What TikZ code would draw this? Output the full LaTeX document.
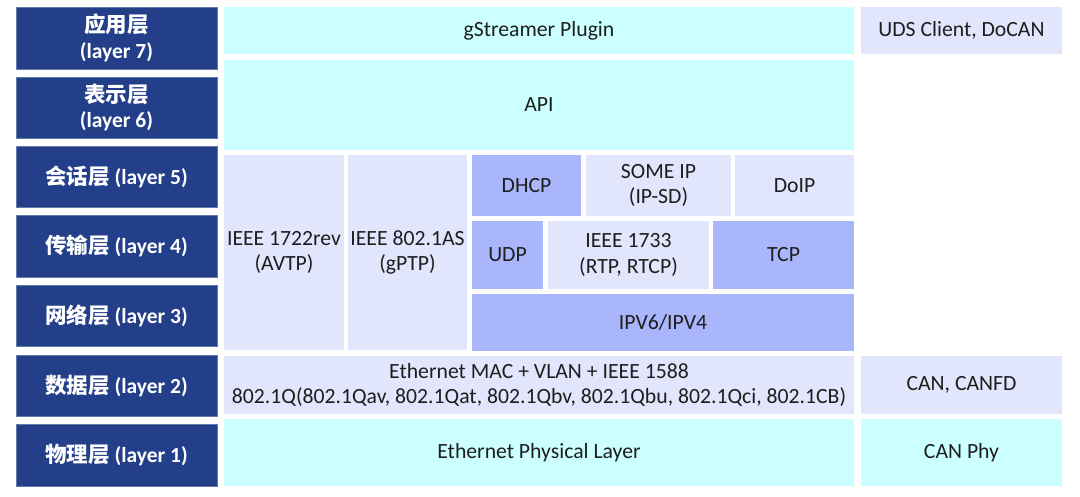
\documentclass[tikz,border=0pt]{standalone}
\usepackage{fontspec}
\setmainfont{Carlito}
\newfontfamily\cjk{Noto Sans CJK SC}
\definecolor{navy}{HTML}{243F8A}
\definecolor{cyanc}{HTML}{CCFFFF}
\definecolor{lav}{HTML}{E2E6FC}
\definecolor{midb}{HTML}{AAB6FC}
\definecolor{txt}{HTML}{1E1E1E}
\newcommand\cellbox[7]{%
  \node[#2, minimum width={(#5-#3)*1pt}, minimum height={(#6-#4)*1pt}]
    (#1) at ({(#3+#5)/2},{-(#4+#6)/2}) {#7};}
\begin{document}
\begin{tikzpicture}[x=1pt,y=1pt,
  base/.style={rectangle, inner sep=0pt, outer sep=0pt, align=center,
    font=\fontsize{21.7}{25.5}\selectfont, text=txt},
  lbl/.style={base, fill=navy, draw=navy!70!white, line width=0.6pt, text=white,
    font=\fontsize{21.5}{25.5}\selectfont\bfseries},
  cy/.style={base, fill=cyanc},
  lv/.style={base, fill=lav},
  md/.style={base, fill=midb}]
\useasboundingbox[fill=white] (0,0) rectangle (1080,-496);
% left labels
\cellbox{l7}{lbl}{16}{7}{217}{69}{{\cjk\bfseries 应用层}\\(layer 7)}
\cellbox{l6}{lbl}{16}{77}{217}{138}{{\cjk\bfseries 表示层}\\(layer 6)}
\cellbox{l5}{lbl}{16}{146}{217}{207}{{\cjk\bfseries 会话层} (layer 5)}
\cellbox{l4}{lbl}{16}{215}{217}{277}{{\cjk\bfseries 传输层} (layer 4)}
\cellbox{l3}{lbl}{16}{285}{217}{346}{{\cjk\bfseries 网络层} (layer 3)}
\cellbox{l2}{lbl}{16}{355}{217}{416}{{\cjk\bfseries 数据层} (layer 2)}
\cellbox{l1}{lbl}{16}{424}{217}{486}{{\cjk\bfseries 物理层} (layer 1)}
% middle
\cellbox{gst}{cy}{224}{7}{854}{54}{gStreamer Plugin}
\cellbox{uds}{lv}{861}{7}{1062}{54}{UDS Client, DoCAN}
\cellbox{api}{cy}{224}{60}{854}{150}{API}
\cellbox{avtp}{lv}{224}{155}{344}{350}{IEEE 1722rev\\(AVTP)}
\cellbox{gptp}{lv}{348}{155}{467}{350}{IEEE 802.1AS\\(gPTP)}
\cellbox{dhcp}{md}{472}{155}{581}{216}{DHCP}
\cellbox{some}{lv}{586}{155}{731}{216}{SOME IP\\(IP-SD)}
\cellbox{doip}{lv}{735}{155}{854}{216}{DoIP}
\cellbox{udp}{md}{472}{221}{543}{289}{UDP}
\cellbox{rtp}{lv}{548}{221}{709}{289}{IEEE 1733\\(RTP, RTCP)}
\cellbox{tcp}{md}{713}{221}{854}{289}{TCP}
\cellbox{ip}{md}{472}{294}{854}{351}{IPV6/IPV4}
\cellbox{mac}{lv}{224}{356}{854}{414}{Ethernet MAC + VLAN + IEEE 1588\\802.1Q(802.1Qav, 802.1Qat, 802.1Qbv, 802.1Qbu, 802.1Qci, 802.1CB)}
\cellbox{can}{lv}{861}{356}{1062}{414}{CAN, CANFD}
\cellbox{phy}{cy}{224}{419}{854}{486}{Ethernet Physical Layer}
\cellbox{canphy}{cy}{861}{419}{1062}{486}{CAN Phy}
\end{tikzpicture}
\end{document}
